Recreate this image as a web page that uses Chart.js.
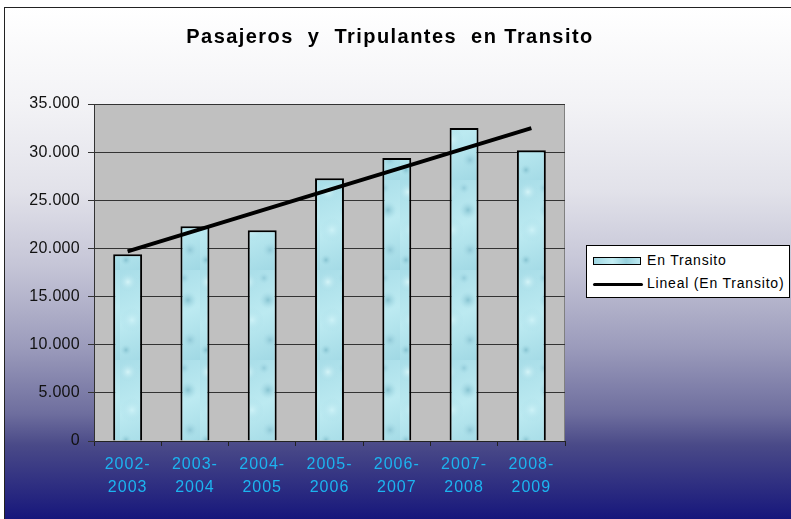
<!DOCTYPE html>
<html>
<head>
<meta charset="utf-8">
<script src="https://cdn.jsdelivr.net/npm/chart.js@4/dist/chart.umd.min.js"></script>
<style>
  html, body { margin: 0; padding: 0; background: #fff; }
  #wrap { position: relative; width: 791px; height: 519px; overflow: hidden; }
  #frame {
    position: absolute; left: 4px; top: 7px; width: 800px; height: 520px;
    border-left: 1px solid #222; border-top: 1px solid #222;
    background: linear-gradient(to bottom, #ffffff 0%, #f3f3f6 18%, #e2e2ea 35%, #c4c4d6 50%, #9c9cbc 65%, #6e6e9e 78%, #4a4a88 84%, #2a2a80 93%, #10107a 100%);
  }
  #chart { position: absolute; left: 0; top: 0; }
  #title {
    position: absolute; left: 0; width: 780px; top: 25px; text-align: center;
    font: bold 20px "Liberation Sans", Arial, sans-serif; letter-spacing: 1.45px;
    white-space: pre; color: #000;
  }
  #legend {
    position: absolute; left: 586px; top: 245px; width: 204px; height: 53px;
    background: #fff; border: 1px solid #000; box-sizing: border-box;
    font: 14px "Liberation Sans", Arial, sans-serif; color: #000; letter-spacing: 0.8px;
  }
  .row { position: absolute; left: 6px; height: 20px; line-height: 20px; white-space: nowrap; }
  .sw { position: absolute; left: 0; width: 46px; height: 6px; top: 7px; border: 1px solid #000;
        background: linear-gradient(to right, #9fd6e2, #c4eef4 40%, #96d0dc 70%, #bce8f0); }
  .ln { position: absolute; left: 0; width: 50px; height: 3px; top: 10px; background: #000; border-radius: 2px; }
  .txt { position: absolute; left: 54px; }
</style>
</head>
<body>
<div id="wrap">
  <div id="frame"></div>
  <canvas id="chart" width="791" height="519"></canvas>
  <div id="title">Pasajeros  y  Tripulantes  en Transito</div>
  <div id="legend">
    <div class="row" style="top:4px"><div class="sw"></div><span class="txt">En Transito</span></div>
    <div class="row" style="top:27px"><div class="ln"></div><span class="txt">Lineal (En Transito)</span></div>
  </div>
</div>
<script>
// ── Data ────────────────────────────────────────────────────
const periods   = [['2002-','2003'], ['2003-','2004'], ['2004-','2005'], ['2005-','2006'], ['2006-','2007'], ['2007-','2008'], ['2008-','2009']];
const enTransito = [19400, 22300, 21900, 27300, 29400, 32500, 30200];
// linear trendline, only its two ends
const lineal     = [19700, null, null, null, null, null, 32500];
const yTicks     = [0, 5000, 10000, 15000, 20000, 25000, 30000, 35000];

const FONT = '"Liberation Sans", Arial, sans-serif';

// water-like texture for the bars
function waterPattern() {
  const c = document.createElement('canvas');
  c.width = 40; c.height = 90;
  const g = c.getContext('2d');
  const lin = g.createLinearGradient(0, 0, 40, 90);
  lin.addColorStop(0, '#a8dde8');
  lin.addColorStop(0.5, '#bceaf1');
  lin.addColorStop(1, '#a0d8e4');
  g.fillStyle = lin;
  g.fillRect(0, 0, 40, 90);
  const spots = [[8, 12, 10, '#d4f4f8'], [28, 30, 9, '#88c4d2'], [12, 50, 12, '#cdf2f7'],
                 [30, 70, 8, '#90c8d6'], [6, 80, 6, '#86c2d0'], [24, 8, 6, '#94ccda']];
  spots.forEach(([x, y, r, col]) => {
    const rg = g.createRadialGradient(x, y, 0, x, y, r);
    rg.addColorStop(0, col);
    rg.addColorStop(1, 'rgba(168,221,232,0)');
    g.fillStyle = rg;
    g.fillRect(0, 0, 40, 90);
  });
  return g.createPattern(c, 'repeat');
}

const plotBg = {
  id: 'plotBg',
  afterLayout(chart) {
    // spaced-out lettering like the original
    [['x', '1px'], ['y', '0.3px']].forEach(([id, sp]) => {
      const s = chart.scales[id];
      if (s._spaced) return;
      const orig = s.drawLabels;
      s.drawLabels = function (area) {
        const ctx = this.ctx;
        ctx.save();
        ctx.letterSpacing = sp;
        orig.call(this, area);
        ctx.restore();
      };
      s._spaced = true;
    });
  },
  beforeDraw(chart) {
    const { ctx, chartArea: a } = chart;
    ctx.save();
    ctx.fillStyle = '#c0c0c0';
    ctx.fillRect(a.left, a.top, a.right - a.left, a.bottom - a.top);
    ctx.strokeStyle = '#808080';
    ctx.lineWidth = 1;
    ctx.beginPath();
    ctx.moveTo(a.left, a.top + 0.5);
    ctx.lineTo(a.right - 0.5, a.top + 0.5);
    ctx.lineTo(a.right - 0.5, a.bottom);
    ctx.stroke();
    ctx.restore();
  }
};

const fmt = v => String(v).replace(/\B(?=(\d{3})+(?!\d))/g, '.');

new Chart(document.getElementById('chart'), {
  data: {
    labels: periods,
    datasets: [
      {
        type: 'line',
        label: 'Lineal (En Transito)',
        data: lineal,
        borderColor: '#000',
        borderWidth: 4,
        pointRadius: 0,
        spanGaps: true,
        order: 0,
      },
      {
        type: 'bar',
        label: 'En Transito',
        data: enTransito,
        backgroundColor: waterPattern(),
        borderColor: '#000',
        borderWidth: 2,
        borderSkipped: 'bottom',
        categoryPercentage: 1,
        barPercentage: 0.43,
        order: 1,
      },
    ],
  },
  options: {
    responsive: false,
    animation: false,
    layout: { padding: { left: 0, right: 226, top: 104, bottom: 0 } },
    plugins: { legend: { display: false }, title: { display: false }, tooltip: { enabled: false } },
    scales: {
      x: {
        offset: true,
        grid: { offset: true, drawOnChartArea: false, drawTicks: true, tickLength: 5, color: '#222' },
        border: { color: '#222', width: 1 },
        ticks: { color: '#1cb4f0', font: { family: FONT, size: 16, lineHeight: 1.45 }, padding: 7, maxRotation: 0 },
        afterFit: s => { s.height = 78; },
      },
      y: {
        min: 0, max: 35000,
        afterBuildTicks: s => { s.ticks = yTicks.map(v => ({ value: v })); },
        grid: { color: '#333', tickLength: 6 },
        border: { color: '#333', width: 1 },
        ticks: { color: '#111', font: { family: FONT, size: 16 }, padding: 8, callback: v => fmt(v) },
        afterFit: s => { s.width = 94; },
      },
    },
  },
  plugins: [plotBg],
});
</script>
</body>
</html>
